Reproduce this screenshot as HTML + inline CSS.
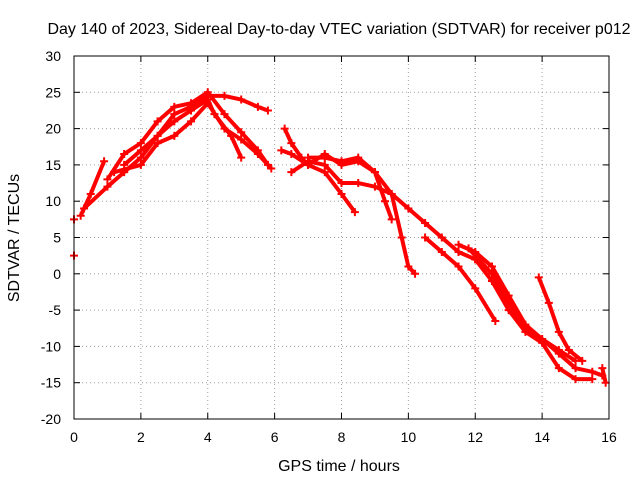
<!DOCTYPE html>
<html><head><meta charset="utf-8"><style>
body{margin:0;background:#fff;}
svg text{font-family:"Liberation Sans",sans-serif;font-size:14px;fill:#000;}
svg text.big{font-size:16px;}
</style></head><body>
<svg id="chart" width="640" height="480">
<rect width="640" height="480" fill="#fff"/>
<text class="big" x="339" y="34" text-anchor="middle">Day 140 of 2023, Sidereal Day-to-day VTEC variation (SDTVAR) for receiver p012</text>
<text class="big" x="339" y="471" text-anchor="middle">GPS time / hours</text>
<text class="big" x="19" y="238" text-anchor="middle" transform="rotate(-90 19 238)">SDTVAR / TECUs</text>
<g id="grid"></g><g id="ticks"></g><g id="marks"></g>
<rect x="74" y="56" width="535" height="363" fill="none" stroke="#000"/>
</svg>
<script>
const xTicks=[0,2,4,6,8,10,12,14,16];
const yTicks=[-20,-15,-10,-5,0,5,10,15,20,25,30];
const arc1=[[0.2,8],[0.5,11],[0.9,15.5]];
const arc2=[[0.3,9],[1,12],[1.5,14],[2,16],[2.5,19],[3,22],[3.5,23],[4,24.5],[4.5,24.5],[5,24],[5.5,23],[5.8,22.5]];
const arc3=[[1,13],[1.5,16.5],[2,18],[2.5,21],[3,23],[3.5,23.5],[4,25],[4.5,22],[5,19.5],[5.5,17],[5.8,15]];
const arc4=[[1.2,14],[2,15],[2.5,18],[3,19],[3.5,21],[4,23.5],[4.5,20],[5,18.5],[5.5,16.5],[5.9,14.5]];
const arc5=[[1.5,15],[2,17],[2.5,19],[3,21],[3.5,22.5],[4,24],[4.2,22],[4.7,19],[5,16]];
const arc6=[[6.3,20],[6.5,18],[6.8,16],[7,15],[7.5,14],[8,11],[8.4,8.5]];
const arc7=[[6.2,17],[6.5,16.5],[7,15],[7.5,16.5],[8,15],[8.5,15.5],[9,14],[9.5,11],[9.8,5],[10,1],[10.2,0]];
const arc8=[[6.5,14],[7,15.5],[7.5,15],[8,12.5],[8.5,12.5],[9,12],[9.5,11],[10,9],[10.5,7],[11,5],[11.5,3],[12,2]];
const arc9=[[7,16],[7.5,16],[8,15.5],[8.5,16],[9,14],[9.3,10],[9.5,7.5]];
const arc10=[[10.5,5],[11,3],[11.5,1],[12,-2],[12.6,-6.5]];
const arc11=[[11.5,4],[12,3],[12.5,1],[13,-3],[13.5,-7],[14,-9],[14.5,-10.5],[15,-12]];
const arc12=[[11.8,3.5],[12.5,0],[13,-4],[13.5,-7.5],[14,-9],[14.5,-11],[15,-13],[15.5,-13.5],[15.8,-14]];
const arc13=[[12,2],[12.5,-1],[13,-5],[13.5,-8],[14,-9.5],[14.5,-13],[15,-14.5],[15.5,-14.5]];
const arc14=[[13.9,-0.5],[14.2,-4],[14.5,-8],[14.8,-10.5],[15.2,-12]];
const arc15=[[15.8,-13],[15.9,-15]];
const single=[[0,2.5],[0,7.5]];
const arcs=[arc1,arc2,arc3,arc4,arc5,arc6,arc7,arc8,arc9,arc10,arc11,arc12,arc13,arc14,arc15];
const NS="http://www.w3.org/2000/svg";
const xs=t=>74+t*(535/16);
const ys=v=>56+(30-v)*(363/50);
function mk(tag,attrs,parent){const e=document.createElementNS(NS,tag);for(const k in attrs)e.setAttribute(k,attrs[k]);parent.appendChild(e);return e;}
const grid=document.getElementById('grid'),ticks=document.getElementById('ticks'),marks=document.getElementById('marks');
xTicks.forEach(t=>{const x=xs(t);
 if(t>0&&t<16){const g=mk('line',{x1:x,x2:x,y1:56,y2:419,stroke:'#a0a0a0','stroke-dasharray':'1,3'},grid);
 
 }
 mk('line',{x1:x,x2:x,y1:419,y2:413,stroke:'#000'},ticks);mk('line',{x1:x,x2:x,y1:56,y2:62,stroke:'#000'},ticks);
 const l=mk('text',{x:x,y:442,'text-anchor':'middle'},ticks);l.textContent=t;
 
 });
yTicks.forEach(v=>{const y=ys(v);
 if(v>-20&&v<30){const g=mk('line',{x1:74,x2:609,y1:y,y2:y,stroke:'#a0a0a0','stroke-dasharray':'1,3'},grid);
 
 }
 mk('line',{x1:74,x2:80,y1:y,y2:y,stroke:'#000'},ticks);mk('line',{x1:609,x2:603,y1:y,y2:y,stroke:'#000'},ticks);
 const l=mk('text',{x:61,y:y+5,'text-anchor':'end'},ticks);l.textContent=v;
 
 });
function cross(t,v){const x=xs(t),y=ys(v);mk('path',{d:`M${x-4} ${y}H${x+4}M${x} ${y-4}V${y+4}`,stroke:'#f00','stroke-width':2},marks);}
arcs.forEach(a=>{const p=mk('polyline',{points:a.map(d=>xs(d[0])+','+ys(d[1])).join(' '),fill:'none',stroke:'#f00','stroke-width':4,'stroke-linejoin':'round'},marks);
 
 
 a.forEach(d=>cross(d[0],d[1]));});
single.forEach(d=>cross(d[0],d[1]));
</script>
</body></html>
